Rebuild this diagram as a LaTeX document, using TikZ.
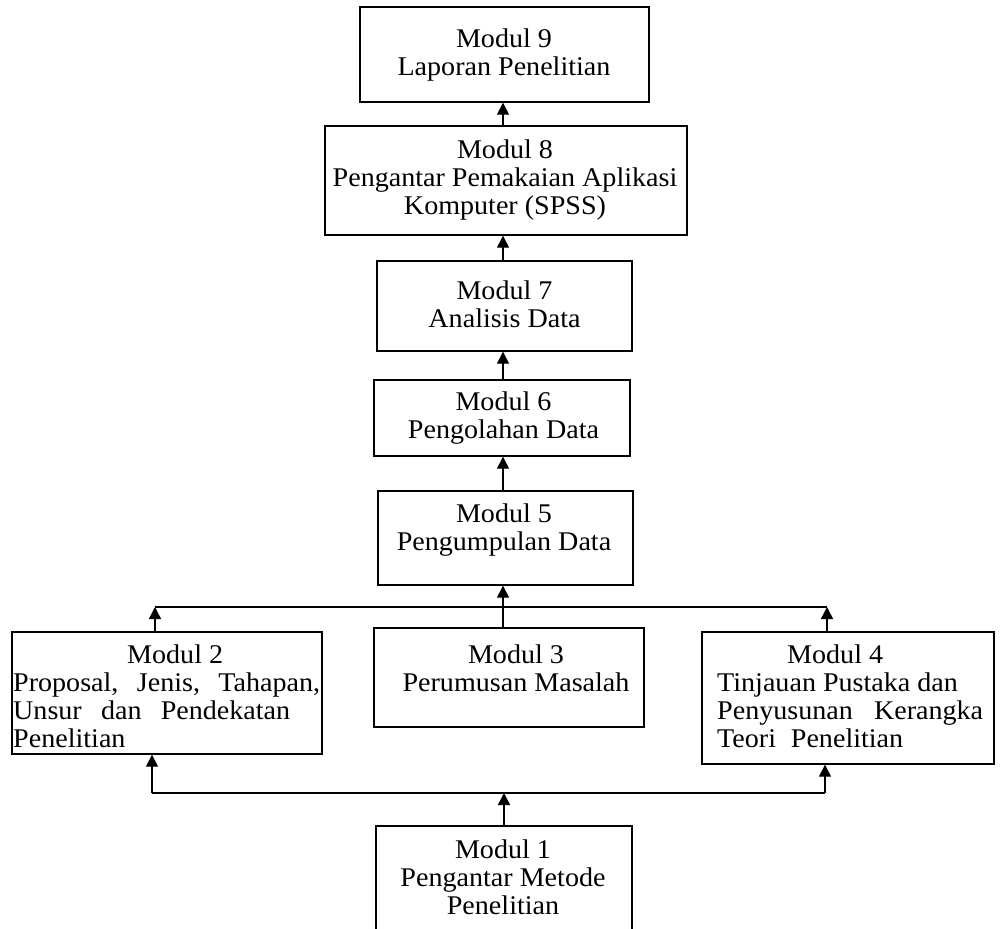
\documentclass[tikz,border=0pt]{standalone}
\usepackage{fontspec}
\setmainfont{Liberation Serif}[FakeStretch=1.04]
\usetikzlibrary{arrows.meta}
\begin{document}
\begin{tikzpicture}[x=1pt,y=-1pt,
  box/.style={draw, line width=1.4pt, inner sep=0pt},
  txt/.style={font=\fontsize{27}{28}\selectfont, inner sep=0pt, align=center},
  txtl/.style={font=\fontsize{27}{28}\selectfont, inner sep=0pt, align=left, anchor=north west},
  ln/.style={line width=1.4pt},
  arr/.style={line width=1.4pt, -{Triangle[width=12pt,length=12pt]}}]
\useasboundingbox (0,0) rectangle (1005,929);
\clip (0,0) rectangle (1005,929);
% boxes
\node[box, minimum width=289pt, minimum height=95pt] (m9) at (504.5,54.5) {};
\node[box, minimum width=362pt, minimum height=109pt] (m8) at (506,180.5) {};
\node[box, minimum width=255pt, minimum height=90pt] (m7) at (504.5,306) {};
\node[box, minimum width=256pt, minimum height=76pt] (m6) at (502,418) {};
\node[box, minimum width=255pt, minimum height=94pt] (m5) at (505.5,538) {};
\node[box, minimum width=310pt, minimum height=122pt] (m2) at (167,693) {};
\node[box, minimum width=270pt, minimum height=99pt] (m3) at (509,677.5) {};
\node[box, minimum width=292pt, minimum height=132pt] (m4) at (848,698) {};
\node[box, minimum width=256pt, minimum height=134pt] (m1) at (504,893) {};
% texts
\node[txt, anchor=north] (t9) at (504,28.6) {Modul 9\\Laporan Penelitian};
\node[txt, anchor=north] (t8) at (505,139.6) {Modul 8\\Pengantar Pemakaian Aplikasi\\Komputer (SPSS)};
\node[txt, anchor=north] (t7) at (504.5,280.6) {Modul 7\\Analisis Data};
\node[txt, anchor=north] (t6) at (503.5,391.6) {Modul 6\\Pengolahan Data};
\node[txt, anchor=north] (t5) at (504,503.6) {Modul 5\\Pengumpulan Data};
\node[txt, anchor=north] (t3) at (516,644.6) {Modul 3\\Perumusan Masalah};
\node[txtl] (t2) at (13,644.6) {\hspace*{114pt}Modul 2\\\makebox[307pt][s]{Proposal, Jenis, Tahapan,}\\\makebox[277pt][s]{Unsur dan Pendekatan}\\Penelitian};
\node[txtl] (t4) at (717,644.6) {\hspace*{70pt}Modul 4\\Tinjauan Pustaka dan\\\makebox[266pt][s]{Penyusunan Kerangka}\\\makebox[186pt][s]{Teori Penelitian}};
\node[txt, anchor=north] (t1) at (503,839.6) {Modul 1\\Pengantar Metode\\Penelitian};
% connector coordinates
\coordinate (cx) at (503,0);
\coordinate (uL) at (155,607);
\coordinate (uC) at (503,607);
\coordinate (uR) at (827,607);
\coordinate (lL) at (152,793);
\coordinate (lC) at (504,793);
\coordinate (lR) at (825,793);
% column arrows
\draw[arr] (m8.north -| cx) -- (m9.south -| cx);
\draw[arr] (m7.north -| cx) -- (m8.south -| cx);
\draw[arr] (m6.north -| cx) -- (m7.south -| cx);
\draw[arr] (m5.north -| cx) -- (m6.south -| cx);
% upper bus
\draw[ln] (uL) -- (uR);
\draw[arr] (uC) -- (m5.south -| uC);
\draw[ln] (m3.north -| uC) -- (uC);
\draw[arr] (m2.north -| uL) -- (uL);
\draw[arr] (m4.north -| uR) -- (uR);
% lower bus
\draw[ln] (lL) -- (lR);
\draw[arr] (m1.north -| lC) -- (lC);
\draw[arr] (lL) -- (m2.south -| lL);
\draw[arr] (lR) -- (m4.south -| lR);
\end{tikzpicture}
\end{document}
